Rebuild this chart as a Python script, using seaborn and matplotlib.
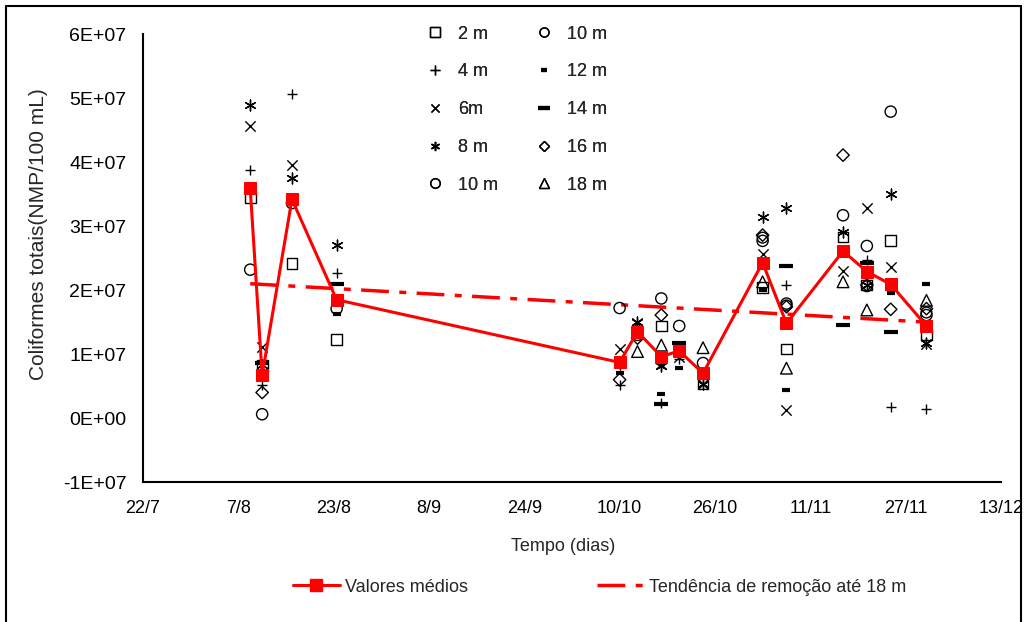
import numpy as np
import matplotlib
matplotlib.use("Agg")
import matplotlib.pyplot as plt
from matplotlib.ticker import FuncFormatter, FixedLocator
from matplotlib.lines import Line2D
import seaborn as sns

nan = np.nan

# days counted from 22/7
days = [18, 20, 25, 32.5, 80, 83, 87, 90, 94, 104, 108, 117.5, 121.5, 125.5, 131.5]

# coliform values (x 1E+07) per depth
m2 = [3.45, 0.82, 2.42, 1.23, nan, nan, 1.44, nan, 0.54, 2.04, 1.08, 2.83, 2.08, 2.78, 1.30]
m4 = [3.87, 0.52, 5.06, 2.27, 0.52, nan, 0.23, 0.92, nan, nan, 2.08, nan, 2.47, 0.17, 0.14]
m6 = [4.57, 1.11, 3.96, nan, 1.08, 1.48, 0.85, 0.96, 0.54, 2.56, 0.125, 2.30, 3.29, 2.36, 1.15]
m8 = [4.90, 0.83, 3.75, 2.70, 0.85, 1.50, 0.82, nan, 0.54, 3.15, 3.28, 2.91, 2.08, 3.51, 1.18]
m10a = [2.32, 0.06, 3.36, 1.71, 1.72, 1.30, 1.87, 1.44, 0.86, 2.77, 1.79, 3.17, 2.69, 4.79, 1.61]
m10b = [nan, nan, nan, nan, nan, nan, nan, nan, nan, 2.82, 1.76, nan, 2.06, nan, 1.65]
m12 = [nan, nan, nan, 1.62, 0.70, nan, 0.37, 0.78, nan, 2.00, 0.44, nan, nan, 1.95, 2.09]
m14 = [nan, 0.86, nan, 2.10, nan, nan, 0.22, 1.18, nan, nan, 2.38, 1.46, 2.42, 1.35, nan]
m16 = [nan, 0.40, nan, nan, 0.60, 1.25, 1.61, nan, nan, 2.86, 1.74, 4.11, 2.08, 1.70, 1.71]
m18 = [nan, nan, nan, nan, nan, 1.04, 1.14, nan, 1.10, 2.13, 0.78, 2.13, 1.69, nan, 1.84]

means = [3.59, 0.67, 3.42, 1.85, 0.87, 1.35, 0.96, 1.05, 0.70, 2.43, 1.48, 2.61, 2.29, 2.09, 1.44]

trend_days = [18, 131.5]
trend_vals = [2.10, 1.50]

tick_days = [0, 16, 32, 48, 64, 80, 96, 112, 128, 144]
tick_labels = ["22/7", "7/8", "23/8", "8/9", "24/9", "10/10", "26/10", "11/11", "27/11", "13/12"]

sns.set_style("white")
plt.rcParams['font.family'] = ['Liberation Sans', 'DejaVu Sans']

fig = plt.figure(figsize=(10.25, 6.22), dpi=100)
ax = fig.add_axes([0.1395, 0.225, 0.837, 0.720])

scale = 1e7
series = [
    ("2 m", m2, "s", True, 60, 1.0),
    ("4 m", m4, "+", False, 60, 1.0),
    ("6m", m6, "x", False, 55, 1.0),
    ("8 m", m8, (6, 2, 0), False, 60, 1.0),
    ("10 m", m10a, "o", True, 65, 1.0),
    ("10 m", m10b, "o", True, 60, 1.0),
    ("12 m", m12, "_", False, 30, 3.0),
    ("14 m", m14, "_", False, 110, 3.0),
    ("16 m", m16, "D", True, 40, 1.0),
    ("18 m", m18, "^", True, 70, 1.0),
]

handles = []
for label, vals, mk, filled, size, lw in series:
    y = np.array(vals) * scale
    if filled:
        sns.scatterplot(x=days, y=y, marker=mk, s=size, facecolor="none",
                        edgecolor="black", linewidth=lw, ax=ax, zorder=3)
    else:
        sns.scatterplot(x=days, y=y, marker=mk, s=size, color="black",
                        edgecolor=None, linewidth=lw, ax=ax, zorder=3)
    handles.append(Line2D([], [], linestyle="none", marker=mk,
                          markersize=np.sqrt(size) * 0.85,
                          markerfacecolor="none" if filled else "black",
                          markeredgecolor="black", markeredgewidth=lw,
                          label=label))

sns.lineplot(x=days, y=np.array(means) * scale, color="red", lw=2.2,
             marker="s", markersize=8, markeredgecolor="red", ax=ax, zorder=4)
sns.lineplot(x=trend_days, y=np.array(trend_vals) * scale, color="red", lw=2.5,
             linestyle=(0, (8, 3, 2, 3)), ax=ax, zorder=2)

ax.set_xlim(0, 144)
ax.set_ylim(-1e7, 6e7)
ax.xaxis.set_major_locator(FixedLocator(tick_days))
ax.set_xticklabels(tick_labels)
ax.set_yticks(np.arange(-1e7, 6.1e7, 1e7))
ax.yaxis.set_major_formatter(FuncFormatter(lambda v, p: f"{v:.0E}"))

for s in ["top", "right"]:
    ax.spines[s].set_visible(False)
for s in ["left", "bottom"]:
    ax.spines[s].set_color("black")
    ax.spines[s].set_linewidth(1.5)
ax.tick_params(axis="both", direction="out", length=5, width=1.5, color="black",
               labelcolor="black")
ax.tick_params(axis="x", pad=8, labelsize=13)
ax.tick_params(axis="y", pad=7, labelsize=14)

ax.set_xlabel("Tempo (dias)", fontsize=13)
ax.set_ylabel("Coliformes totais(NMP/100 mL)", fontsize=15)
ax.xaxis.set_label_coords(0.49, -0.125)
ax.yaxis.set_label_coords(-0.111, 0.554)

leg = ax.legend(handles=handles, ncol=2, frameon=False, fontsize=13,
                loc="upper left", bbox_to_anchor=(0.400, 0.985),
                bbox_transform=fig.transFigure,
                labelspacing=1.15, columnspacing=2.0, handlelength=1.0,
                handletextpad=0.78)
ax.add_artist(leg)

bottom_handles = [
    Line2D([], [], color="red", lw=2.2, marker="s", markersize=8,
           markeredgecolor="red", label="Valores médios"),
    Line2D([], [], color="red", lw=2.5, linestyle=(0, (8, 3, 2, 3)),
           label="Tendência de remoção até 18 m"),
]
fig.legend(handles=bottom_handles, ncol=2, frameon=False, fontsize=13,
           loc="center left", bbox_to_anchor=(0.270, 1 - 587 / 622),
           columnspacing=7.1, handlelength=2.6, handletextpad=0.3)

# outer frame
fx0, fx1, fy1 = 6 / 1025, 1 - 4 / 1025, 1 - 6 / 622
fig.add_artist(Line2D([fx0, fx0], [0, fy1], color="black", lw=1.5,
                      transform=fig.transFigure))
fig.add_artist(Line2D([fx0, fx1], [fy1, fy1], color="black", lw=1.5,
                      transform=fig.transFigure))
fig.add_artist(Line2D([fx1, fx1], [0, fy1], color="black", lw=1.5,
                      transform=fig.transFigure))

fig.savefig("out.png", dpi=100)
